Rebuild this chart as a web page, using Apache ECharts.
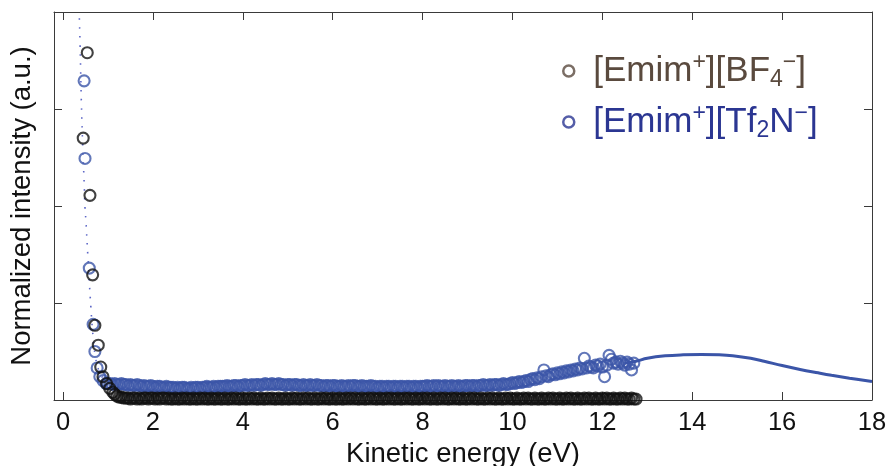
<!DOCTYPE html>
<html>
<head>
<meta charset="utf-8">
<script src="https://cdn.jsdelivr.net/npm/echarts@6/dist/echarts.min.js"></script>
<style>
  html, body { margin: 0; padding: 0; background: #ffffff; }
  #chart { width: 891px; height: 466px; }
</style>
</head>
<body>
<div id="chart"></div>
<script>
// Kinetic energy distributions of secondary ions, normalized intensity vs energy (eV)

const xTicks = [0, 2, 4, 6, 8, 10, 12, 14, 16, 18];
const yTicks = [0, 1, 2, 3, 4];

const nameBF4 = '[Emim+][BF4-]';
const nameTf2N = '[Emim+][Tf2N-]';

// [Emim+][BF4-]: steep low-energy part
const bf4Steep = [
  [0.45, 2.70], [0.54, 3.58], [0.60, 2.11], [0.66, 1.29], [0.71, 0.77],
  [0.785, 0.565], [0.84, 0.34], [0.89, 0.24], [0.97, 0.17], [1.04, 0.12], [1.11, 0.08]
];
// [Emim+][BF4-]: flat tail sampled every 0.05 eV from 1.15 eV
const bf4TailStart = 1.15;
const bf4TailStep = 0.05;
const bf4Tail = [
  0.06,0.04,0.03,0.03,0.02,0.02,
  0.02,0.01,0.02,0.02,0.01,0.02,0.01,0.02,0.02,0.01,0.02,0.02,0.01,0.02,0.01,0.02,0.02,0.01,0.02,0.01,
  0.01,0.02,0.01,0.01,0.02,0.01,0.02,0.01,0.01,0.02,0.01,0.01,0.02,0.01,0.02,0.01,0.01,0.02,0.01,0.01,
  0.02,0.01,0.01,0.02,0.01,0.01,0.02,0.01,0.02,0.01,0.01,0.02,0.01,0.01,0.02,0.01,0.02,0.01,0.01,0.02,
  0.01,0.01,0.02,0.01,0.02,0.01,0.01,0.02,0.01,0.01,0.02,0.01,0.01,0.02,0.01,0.02,0.01,0.01,0.02,0.01,
  0.02,0.01,0.01,0.02,0.01,0.01,0.02,0.01,0.02,0.01,0.01,0.02,0.01,0.01,0.02,0.01,0.01,0.02,0.01,0.02,
  0.01,0.02,0.01,0.01,0.02,0.01,0.01,0.02,0.01,0.02,0.01,0.01,0.02,0.01,0.01,0.02,0.01,0.02,0.01,0.01,
  0.02,0.01,0.01,0.02,0.01,0.02,0.01,0.01,0.02,0.01,0.01,0.02,0.01,0.02,0.01,0.01,0.02,0.01,0.01,0.02,
  0.01,0.02,0.01,0.01,0.02,0.01,0.02,0.01,0.01,0.02,0.01,0.01,0.02,0.01,0.02,0.01,0.01,0.02,0.01,0.01,
  0.02,0.01,0.02,0.01,0.01,0.02,0.01,0.01,0.02,0.01,0.02,0.01,0.01,0.02,0.01,0.01,0.02,0.01,0.02,0.01,
  0.01,0.02,0.01,0.01,0.02,0.01,0.01,0.02,0.01,0.02,0.01,0.01,0.02,0.01,0.01,0.02,0.01,0.02,0.01,0.01,
  0.02,0.01,0.01,0.02,0.01,0.02,0.01,0.01,0.02,0.01,0.01,0.02,0.01,0.02,0.01,0.01,0.02,0.01,0.01,0.02,
  0.01,0.02,0.01,0.01,0.02,0.01,0.01
];

// [Emim+][Tf2N-]: steep low-energy part
const tf2nSteep = [
  [0.47, 3.29], [0.49, 2.49], [0.585, 1.36], [0.67, 0.78], [0.71, 0.50],
  [0.76, 0.33], [0.82, 0.24], [0.89, 0.20], [0.96, 0.17]
];
// [Emim+][Tf2N-]: tail sampled every 0.05 eV from 1.00 eV
const tf2nTailStart = 1.00;
const tf2nTailStep = 0.05;
const tf2nTail = [
  0.17,0.17,0.16,0.17,0.16,0.16,0.17,0.16,0.16,0.15,0.16,
  0.15,0.15,0.16,0.15,0.14,0.15,0.14,0.14,0.15,0.14,0.13,0.14,0.14,0.13,0.13,0.14,0.13,0.13,0.13,0.12,
  0.13,0.12,0.13,0.13,0.12,0.12,0.13,0.12,0.13,0.13,0.12,0.13,0.13,0.14,0.13,0.13,0.14,0.13,0.14,0.14,
  0.14,0.14,0.15,0.14,0.14,0.15,0.15,0.14,0.15,0.15,0.16,0.15,0.15,0.16,0.15,0.16,0.16,0.15,0.16,0.17,
  0.16,0.16,0.17,0.16,0.16,0.17,0.16,0.16,0.15,0.16,0.16,0.15,0.16,0.16,0.15,0.15,0.16,0.15,0.15,0.16,
  0.15,0.15,0.16,0.15,0.15,0.14,0.15,0.15,0.14,0.15,0.15,0.14,0.14,0.15,0.14,0.14,0.15,0.14,0.15,0.15,
  0.14,0.14,0.15,0.14,0.14,0.14,0.15,0.14,0.14,0.13,0.14,0.14,0.13,0.14,0.14,0.13,0.14,0.14,0.13,0.14,
  0.14,0.13,0.14,0.14,0.13,0.14,0.14,0.13,0.14,0.14,0.14,0.15,0.14,0.14,0.15,0.14,0.15,0.14,0.14,0.15,
  0.14,0.14,0.15,0.14,0.14,0.15,0.14,0.14,0.15,0.15,0.14,0.15,0.15,0.14,0.15,0.15,0.16,0.15,0.15,0.16,
  0.15,0.16,0.16,0.15,0.16,0.17,0.16,0.16,0.17,0.18,0.17,0.18,0.19,0.18,0.19,0.20,0.19,0.21,0.22,0.21,
  0.23,0.22,0.24,0.31,0.25,0.24,0.26,0.27,0.26,0.28,0.27,0.29,0.28,0.30,0.29,0.31,0.30,0.32,0.31,0.33,
  0.32,0.43,0.33,0.35,0.34,0.33,0.36,0.35,0.37,0.34,0.24,0.36,0.46,0.42,0.38,0.39,0.37,0.40,0.38,0.36,
  0.39,0.37,0.31,0.38
];

// Fitted curve: dotted at low energy, solid at high energy
const fitLow = [
  [0.33, 4.40], [0.36, 4.00], [0.38, 3.67], [0.41, 3.05], [0.44, 2.60], [0.47, 2.25],
  [0.49, 1.98], [0.51, 1.85], [0.55, 1.51], [0.62, 0.96], [0.67, 0.65], [0.72, 0.45],
  [0.80, 0.30], [0.90, 0.22], [1.00, 0.18]
];
const fitHigh = [
  [12.50, 0.38], [12.75, 0.40], [13.00, 0.43], [13.40, 0.455], [13.80, 0.466], [14.20, 0.47],
  [14.60, 0.466], [14.90, 0.456], [15.30, 0.43], [15.60, 0.40], [16.00, 0.355], [16.40, 0.315],
  [16.80, 0.28], [17.10, 0.255], [17.50, 0.225], [18.00, 0.19]
];

function tailPoints(start, step, values) {
  return values.map((v, i) => [Math.round((start + i * step) * 100) / 100, v]);
}

const bf4Data = bf4Steep.concat(tailPoints(bf4TailStart, bf4TailStep, bf4Tail));
const tf2nData = tf2nSteep.concat(tailPoints(tf2nTailStart, tf2nTailStep, tf2nTail));

const FONT = '"Liberation Sans", Arial, Helvetica, sans-serif';
const AXIS_COLOR = '#3a3a3a';
const BLACK = '#111111';
const BLUE = '#3b55a8';
const LEGEND_BROWN = '#5a4a3e';
const LEGEND_BLUE = '#2b3692';

const tickStyle = { show: true, inside: true, length: 8, lineStyle: { color: AXIS_COLOR, width: 1 } };

function richSet(prefix, color) {
  const s = {};
  s[prefix] = { fontSize: 35, lineHeight: 40, color: color, fontFamily: FONT };
  s[prefix + 's'] = { fontSize: 23, lineHeight: 30, verticalAlign: 'top', color: color, fontFamily: FONT };
  s[prefix + 'b'] = { fontSize: 23, lineHeight: 14, verticalAlign: 'bottom', color: color, fontFamily: FONT };
  return s;
}

const chart = echarts.init(document.getElementById('chart'), null, { renderer: 'canvas' });

chart.setOption({
  animation: false,
  backgroundColor: '#ffffff',
  grid: { left: 54, right: 19, top: 12, bottom: 66, containLabel: false, outerBoundsMode: 'none' },
  legend: {
    orient: 'vertical',
    left: 557,
    top: 46,
    itemWidth: 11,
    itemHeight: 11,
    itemGap: 11,
    selectedMode: false,
    data: [
      { name: nameBF4, icon: 'circle',
        itemStyle: { color: 'rgba(0,0,0,0)', borderColor: LEGEND_BROWN, borderWidth: 2.5 } },
      { name: nameTf2N, icon: 'circle',
        itemStyle: { color: 'rgba(0,0,0,0)', borderColor: LEGEND_BLUE, borderWidth: 2.5 } }
    ],
    formatter: function (name) {
      if (name === nameBF4) {
        return '{g| }{a|[Emim}{as|+}{a|][BF}{ab|4}{as|\u2212}{a|]}';
      }
      return '{g| }{b|[Emim}{bs|+}{b|][Tf}{bb|2}{b|N}{bs|\u2212}{b|]}';
    },
    textStyle: {
      fontFamily: FONT,
      rich: Object.assign({ g: { width: 14, fontSize: 10 } },
        richSet('a', LEGEND_BROWN), richSet('b', LEGEND_BLUE))
    }
  },
  xAxis: [
    {
      type: 'value',
      position: 'bottom',
      min: -0.2,
      max: 18,
      name: 'Kinetic energy (eV)',
      nameLocation: 'middle',
      nameGap: 34,
      nameTextStyle: { fontSize: 27.5, color: BLACK, fontFamily: FONT },
      axisLine: { show: true, onZero: false, lineStyle: { color: AXIS_COLOR, width: 1 } },
      axisTick: Object.assign({ customValues: xTicks }, tickStyle),
      axisLabel: { customValues: xTicks, fontSize: 25.5, color: BLACK, fontFamily: FONT, margin: 10 },
      splitLine: { show: false }
    },
    {
      type: 'value',
      position: 'top',
      min: -0.2,
      max: 18,
      axisLine: { show: true, onZero: false, lineStyle: { color: AXIS_COLOR, width: 1 } },
      axisTick: Object.assign({ customValues: xTicks }, tickStyle),
      axisLabel: { show: false },
      splitLine: { show: false }
    }
  ],
  yAxis: [
    {
      type: 'value',
      position: 'left',
      min: 0,
      max: 4,
      interval: 1,
      name: 'Normalized intensity (a.u.)',
      nameLocation: 'middle',
      nameGap: 18,
      nameTextStyle: { fontSize: 27.5, color: BLACK, fontFamily: FONT },
      axisLine: { show: true, onZero: false, lineStyle: { color: AXIS_COLOR, width: 1 } },
      axisTick: Object.assign({ customValues: yTicks }, tickStyle),
      axisLabel: { show: false },
      splitLine: { show: false }
    },
    {
      type: 'value',
      position: 'right',
      min: 0,
      max: 4,
      interval: 1,
      axisLine: { show: true, onZero: false, lineStyle: { color: AXIS_COLOR, width: 1 } },
      axisTick: Object.assign({ customValues: yTicks }, tickStyle),
      axisLabel: { show: false },
      splitLine: { show: false }
    }
  ],
  series: [
    {
      name: 'fit-low',
      type: 'line',
      data: fitLow,
      smooth: true,
      symbol: 'none',
      clip: true,
      silent: true,
      lineStyle: { color: '#5c66c6', width: 1.6, type: [1.5, 7.5] },
      z: 1
    },
    {
      name: nameTf2N,
      type: 'scatter',
      data: tf2nData,
      symbol: 'circle',
      symbolSize: 11,
      itemStyle: { color: 'rgba(0,0,0,0)', borderColor: BLUE, borderWidth: 2.1 },
      z: 2
    },
    {
      name: 'fit-high',
      type: 'line',
      data: fitHigh,
      smooth: 0.4,
      symbol: 'none',
      clip: true,
      silent: true,
      lineStyle: { color: BLUE, width: 3 },
      z: 3
    },
    {
      name: nameBF4,
      type: 'scatter',
      data: bf4Data,
      symbol: 'circle',
      symbolSize: 11,
      itemStyle: { color: 'rgba(0,0,0,0)', borderColor: BLACK, borderWidth: 2.1 },
      z: 4
    }
  ]
});
</script>
</body>
</html>
